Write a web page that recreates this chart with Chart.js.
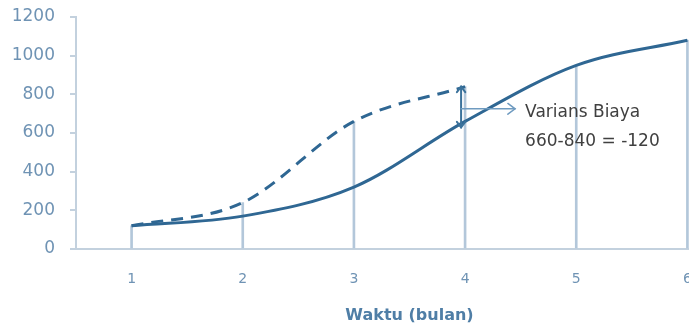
<!DOCTYPE html>
<html>
<head>
<meta charset="utf-8">
<script src="https://cdn.jsdelivr.net/npm/chart.js@4/dist/chart.umd.min.js"></script>
<style>
  html, body { margin: 0; padding: 0; background: #fff; overflow: hidden; }
  #wrap { width: 745px; height: 325px; }
</style>
</head>
<body>
<div id="wrap"><canvas id="c" width="745" height="325"></canvas></div>
<script>
// Months on the time axis
const months = ['1', '2', '3', '4', '5', '6'];
// Actual cost curve (solid)
const actualCost = [120, 170, 320, 660, 950, 1080];
// Planned cost curve (dashed), known up to month 4
const plannedCost = [120, 240, 660, 840, null, null];
// Height of the vertical guide at each month
const guideHeight = [120, 240, 660, 840, 950, 1080];
// Y axis ticks
const yTicks = [0, 200, 400, 600, 800, 1000, 1200];
// Variance note
const varianceLines = ['Varians Biaya', '660-840 = -120'];
const varianceFrom = 660, varianceTo = 840;

const lineColor = '#2f6793';
const axisColor = '#c3d1de';
const tickColor = '#6f93b4';

function arrowHead(ctx, x, y, angle, size) {
  ctx.beginPath();
  ctx.moveTo(x + Math.cos(angle + 2.5) * size, y + Math.sin(angle + 2.5) * size);
  ctx.lineTo(x, y);
  ctx.lineTo(x + Math.cos(angle - 2.5) * size, y + Math.sin(angle - 2.5) * size);
  ctx.stroke();
}

const variancePlugin = {
  id: 'varianceNote',
  afterDatasetsDraw(chart) {
    const { ctx, scales: { x, y } } = chart;
    const idx = 3;
    const px = x.getPixelForValue(idx) - 4;
    const yTop = y.getPixelForValue(varianceTo);
    const yBot = y.getPixelForValue(varianceFrom) + 6;
    const yMid = y.getPixelForValue((varianceFrom + varianceTo) / 2 - 25);
    ctx.save();
    ctx.strokeStyle = '#3b729b';
    ctx.lineWidth = 2;
    ctx.lineCap = 'round';
    ctx.beginPath();
    ctx.moveTo(px, yTop);
    ctx.lineTo(px, yBot);
    ctx.stroke();
    arrowHead(ctx, px, yTop, -Math.PI / 2, 7);
    arrowHead(ctx, px, yBot, Math.PI / 2, 7);
    ctx.strokeStyle = '#6f9bc0';
    ctx.lineWidth = 1.5;
    const xEnd = px + 54;
    ctx.beginPath();
    ctx.moveTo(px, yMid);
    ctx.lineTo(xEnd, yMid);
    ctx.stroke();
    arrowHead(ctx, xEnd, yMid, 0, 9);
    ctx.fillStyle = '#404040';
    ctx.font = '17px "DejaVu Sans", sans-serif';
    ctx.textAlign = 'left';
    ctx.textBaseline = 'middle';
    ctx.fillText(varianceLines[0], xEnd + 10, yMid + 4);
    ctx.fillText(varianceLines[1], xEnd + 10, yMid + 33);
    ctx.restore();
  }
};

new Chart(document.getElementById('c'), {
  type: 'bar',
  data: {
    labels: months,
    datasets: [
      {
        type: 'line',
        data: actualCost,
        borderColor: lineColor,
        borderWidth: 3,
        pointRadius: 0,
        cubicInterpolationMode: 'monotone',
        order: 1
      },
      {
        type: 'line',
        data: plannedCost,
        borderColor: lineColor,
        borderWidth: 3,
        borderDash: [12, 8],
        pointRadius: 0,
        cubicInterpolationMode: 'monotone',
        order: 2
      },
      {
        type: 'bar',
        data: guideHeight,
        backgroundColor: '#b3c7da',
        barThickness: 2,
        order: 3
      }
    ]
  },
  options: {
    responsive: false,
    animation: false,
    layout: { padding: { top: 17, right: 2, bottom: 0, left: 0 } },
    plugins: { legend: { display: false }, tooltip: { enabled: false } },
    scales: {
      x: {
        offset: true,
        grid: { display: false, drawTicks: false },
        border: { color: axisColor, width: 2 },
        ticks: { color: tickColor, font: { family: 'DejaVu Sans', size: 14 }, padding: 22 },
        title: {
          display: true,
          text: 'Waktu (bulan)',
          color: '#4f7ea6',
          font: { family: 'DejaVu Sans', size: 16, weight: 'bold' },
          padding: { top: 0, bottom: 0 }
        },
        afterFit(s) { s.height = 76; s.paddingLeft = 0; s.paddingRight = 0; }
      },
      y: {
        min: 0,
        max: 1200,
        afterBuildTicks(s) { s.ticks = yTicks.map(v => ({ value: v })); },
        grid: { drawOnChartArea: false, drawTicks: true, tickLength: 6, color: axisColor, lineWidth: 2 },
        border: { color: axisColor, width: 2 },
        ticks: {
          color: tickColor,
          font: { family: 'DejaVu Sans', size: 17 },
          padding: 15,
          callback: v => String(v)
        },
        afterFit(s) { s.width = 76; s.paddingTop = 0; s.paddingBottom = 0; }
      }
    }
  },
  plugins: [variancePlugin]
});
</script>
</body>
</html>
